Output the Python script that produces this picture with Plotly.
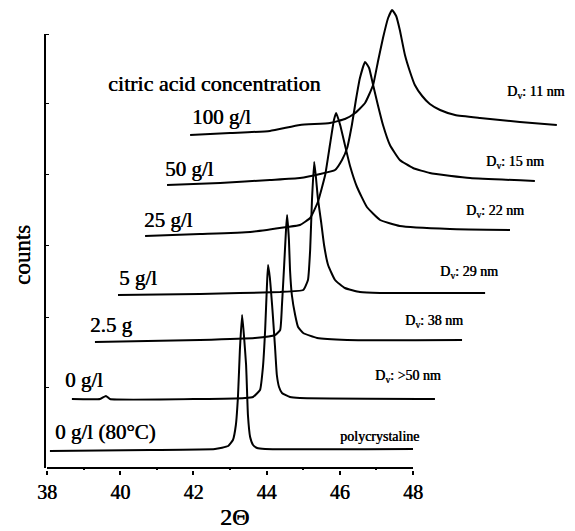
import plotly.graph_objects as go

# ---------------- data ----------------
conc_labels = ["0 g/l (80°C)", "0 g/l", "2.5 g", "5 g/l", "25 g/l", "50 g/l", "100 g/l"]
size_labels = ["polycrystaline", "D<sub>v</sub>: >50 nm", "D<sub>v</sub>: 38 nm", "D<sub>v</sub>: 29 nm",
               "D<sub>v</sub>: 22 nm", "D<sub>v</sub>: 15 nm", "D<sub>v</sub>: 11 nm"]
x_tick_vals = [38, 40, 42, 44, 46, 48]
x_minor_vals = [39, 41, 43, 45, 47]
y_tick_vals = [81, 151, 223, 294, 365, 434]

# waterfall curves (2Θ as plotted, counts in arbitrary units incl. offset)
x_80C = [38.08, 40.81, 42.59, 42.95, 43.08, 43.16, 43.22, 43.27, 43.33, 43.38, 43.44, 43.46, 43.49, 43.55, 43.63, 43.74, 43.96, 48.00]
y_80C = [17, 18, 19, 22, 28, 43, 73, 118, 153, 133, 103, 83, 53, 31, 23, 20, 19, 19]

x_0 = [38.68, 39.45, 39.61, 39.72, 42.18, 43.41, 43.63, 43.82, 43.90, 43.96, 44.01, 44.04, 44.09, 44.15, 44.17, 44.23, 44.28, 44.34, 44.42, 44.64, 44.91, 48.60]
y_0 = [69, 69, 72, 69, 69, 70, 71, 78, 101, 138, 183, 203, 190, 163, 153, 121, 93, 81, 75, 71, 70, 69]

x_2_5 = [39.31, 42.18, 43.68, 44.23, 44.37, 44.42, 44.48, 44.53, 44.56, 44.61, 44.64, 44.69, 44.78, 44.86, 45.00, 45.38, 46.20, 49.34]
y_2_5 = [126, 128, 130, 133, 138, 163, 203, 238, 253, 228, 198, 173, 153, 141, 135, 130, 128, 128]

x_5 = [39.94, 42.18, 44.37, 45.00, 45.13, 45.19, 45.24, 45.30, 45.35, 45.40, 45.49, 45.57, 45.68, 45.87, 46.14, 46.55, 47.10, 49.97]
y_5 = [173, 174, 176, 178, 188, 218, 268, 306, 290, 270, 246, 223, 203, 188, 180, 176, 175, 175]

x_25 = [40.68, 42.18, 43.55, 44.56, 44.91, 45.19, 45.40, 45.60, 45.73, 45.84, 45.90, 46.01, 46.14, 46.28, 46.47, 46.74, 47.10, 47.64, 49.01, 50.65]
y_25 = [232, 234, 236, 241, 243, 250, 266, 293, 323, 348, 355, 343, 323, 302, 281, 261, 248, 242, 239, 238]

x_50 = [41.28, 42.73, 44.09, 44.91, 45.46, 45.87, 46.06, 46.20, 46.33, 46.44, 46.55, 46.69, 46.80, 46.91, 47.04, 47.18, 47.37, 47.64, 48.00, 48.46, 49.56, 51.33]
y_50 = [283, 285, 288, 290, 294, 298, 308, 320, 343, 368, 390, 406, 400, 383, 363, 343, 323, 308, 300, 295, 290, 287]

x_100 = [41.91, 43.00, 44.09, 44.91, 45.73, 46.14, 46.42, 46.69, 46.91, 47.04, 47.18, 47.32, 47.43, 47.54, 47.64, 47.78, 47.92, 48.05, 48.25, 48.46, 48.74, 49.15, 49.83, 50.92, 51.93]
y_100 = [333, 335, 337, 343, 345, 349, 355, 365, 383, 406, 430, 450, 458, 452, 438, 413, 396, 383, 372, 364, 358, 353, 350, 346, 343]

curves = [(x_80C, y_80C), (x_0, y_0), (x_2_5, y_2_5), (x_5, y_5), (x_25, y_25), (x_50, y_50), (x_100, y_100)]

# ---------------- figure ----------------
FONT = "Liberation Serif"
HEAVY = "0.5px 0px 0px black"   # slightly heavier look of the scanned lettering
PX_PER_X = 36.6
# the page body adds an 8px margin, so the figure is 8px smaller than the window
W, H = 567, 523
L, R, T, B = 37, 16, 0, 61
x0 = 38 - 2 / PX_PER_X
x1 = x0 + (W - L - R) / PX_PER_X
y0, y1 = -2, -2 + (H - T - B)


def tfont(size):
    return dict(family=FONT, size=size, color="black", shadow=HEAVY)


fig = go.Figure()
for (xs, ys), name in zip(curves, conc_labels):
    fig.add_trace(go.Scatter(x=xs, y=ys, mode="lines", name=name,
                             line=dict(color="black", width=2, shape="spline", smoothing=0.4),
                             hoverinfo="skip"))

# concentration labels (left) and crystallite-size labels (right)
conc_pos = [(38.16, 36), (38.44, 88), (39.12, 143), (39.91, 190), (40.60, 248), (41.17, 299), (41.91, 351)]
size_pos = [(45.95, 32), (46.91, 92), (47.73, 147), (48.68, 196), (49.39, 257), (49.94, 306), (50.51, 376)]
for t, (px, py) in zip(conc_labels, conc_pos):
    fig.add_annotation(x=px, y=py, text=t, showarrow=False, xanchor="left", yanchor="middle",
                       font=tfont(21))
for t, (px, py) in zip(size_labels, size_pos):
    fig.add_annotation(x=px, y=py, text=t, showarrow=False, xanchor="left", yanchor="middle",
                       font=tfont(14))

fig.add_annotation(x=39.62, y=385, text="citric acid concentration", showarrow=False,
                   xanchor="left", yanchor="middle", font=tfont(22))
fig.add_annotation(xref="paper", yref="paper", x=0.368, y=-0.102, text="2Θ", showarrow=False,
                   xanchor="center", yanchor="middle", font=tfont(24))
fig.add_annotation(xref="paper", yref="paper", x=-0.045, y=0.465, text="counts", showarrow=False,
                   textangle=-90, xanchor="center", yanchor="middle", font=tfont(23))

# axis lines
fig.add_shape(type="line", xref="x", yref="y", x0=38, x1=48, y0=0, y1=0,
              line=dict(color="black", width=2))
fig.add_shape(type="line", xref="paper", yref="y", x0=0, x1=0, y0=0, y1=434,
              line=dict(color="black", width=2))

fig.update_layout(
    width=W, height=H, margin=dict(l=L, r=R, t=T, b=B),
    showlegend=False, plot_bgcolor="white", paper_bgcolor="white",
    xaxis=dict(range=[x0, x1], showgrid=False, zeroline=False, showline=False,
               tickmode="array", tickvals=x_tick_vals, ticktext=[str(v) for v in x_tick_vals],
               ticks="outside", ticklen=4, tickwidth=1.5, tickcolor="black",
               tickfont=tfont(20),
               minor=dict(tickmode="array", tickvals=x_minor_vals, ticks="inside",
                          ticklen=3, tickcolor="black", showgrid=False)),
    yaxis=dict(range=[y0, y1], showgrid=False, zeroline=False, showline=False,
               showticklabels=False, tickmode="array", tickvals=y_tick_vals,
               ticks="inside", ticklen=4, tickcolor="black"),
)

fig.write_html("out.html")
